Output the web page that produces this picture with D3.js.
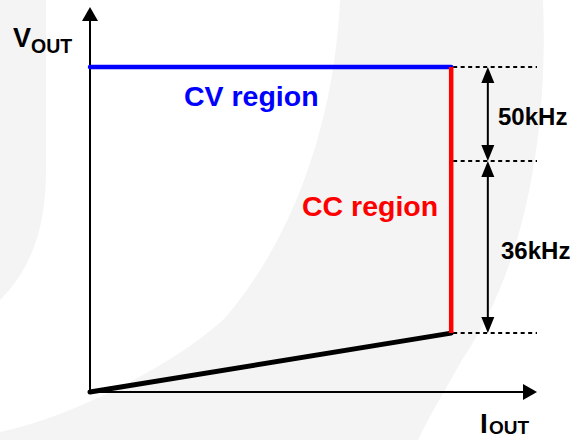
<!DOCTYPE html>
<html><head><meta charset="utf-8">
<script src="https://cdn.jsdelivr.net/npm/d3@7"></script>
<style>
html,body{margin:0;padding:0;background:#fff;}
svg{display:block;font-family:"Liberation Sans",Arial,sans-serif;font-weight:bold;}
</style>
</head><body>
<svg id="c" width="579" height="440"></svg>
<script>
// ---- data (arbitrary units, 0..100 on both axes) ----
const currentDomain = [0, 100];
const voltageDomain = [0, 100];
const iCC = 80.8;          // current limit
const vCV = 84.4;          // regulated voltage
const vMid = 60;           // frequency change level
const vLow = 15.3;         // voltage at CC end
const cvLine = [{i: 0, v: vCV}, {i: iCC, v: vCV}];
const ccLine = [{i: iCC, v: vCV}, {i: iCC, v: vLow}];
const loadLine = [{i: 0, v: 0}, {i: iCC, v: vLow}];
const freqLevels = [vCV, vMid, vLow];
const freqLabels = ["50kHz", "36kHz"];
const regionLabels = ["CV region", "CC region"];
const dimCurrent = 89;     // where the dimension arrows sit

const svg = d3.select("#c");
const x = d3.scaleLinear().domain(currentDomain).range([90, 537]);
const y = d3.scaleLinear().domain(voltageDomain).range([392, 7]);

// faint watermark background
svg.append("path").attr("fill", "#f4f4f4")
  .attr("d", "M340,0 L543,0 C548,120 530,260 462,360 C445,390 430,415 418,440 L0,440 L0,432 C80,415 180,360 225,318 C300,230 335,110 340,0 Z");
svg.append("path").attr("fill", "#f4f4f4")
  .attr("d", "M0,0 L46,0 L46,170 C46,230 30,270 0,300 Z");

const line = d3.line().x(d => x(d.i)).y(d => y(d.v));

// axes (domain paths only) via d3 axes
const xAxis = d3.axisBottom(x).tickValues([]).tickSizeOuter(0);
const yAxis = d3.axisLeft(y).tickValues([]).tickSizeOuter(0);
const gx = svg.append("g").attr("transform", `translate(0,${y(0)})`).call(xAxis);
const gy = svg.append("g").attr("transform", `translate(${x(0)},0)`).call(yAxis);
gx.select(".domain").attr("stroke", "#000").attr("stroke-width", 2)
  .attr("d", `M${x(0)},0H${x(100) - 12}`);
gy.select(".domain").attr("stroke", "#000").attr("stroke-width", 2)
  .attr("d", `M0,${y(0)}V${y(100) + 12}`);

// axis arrowheads
const ax = x(100), ay = y(0);
svg.append("path").attr("fill", "#000")
  .attr("d", `M${ax},${ay} L${ax - 14},${ay - 8} L${ax - 14},${ay + 8} Z`);
const bx = x(0), by = y(100);
svg.append("path").attr("fill", "#000")
  .attr("d", `M${bx},${by} L${bx - 8},${by + 14} L${bx + 8},${by + 14} Z`);

// dashed reference lines
svg.selectAll("line.dash").data(freqLevels).join("line")
  .attr("class", "dash")
  .attr("x1", x(iCC) + 2).attr("x2", x(100))
  .attr("y1", d => y(d)).attr("y2", d => y(d))
  .attr("stroke", "#000").attr("stroke-width", 2)
  .attr("stroke-dasharray", "4,3.5");

// curves
svg.append("path").datum(loadLine).attr("d", line)
  .attr("fill", "none").attr("stroke", "#000").attr("stroke-width", 5).attr("stroke-linecap", "round");
svg.append("path").datum(cvLine).attr("d", line)
  .attr("fill", "none").attr("stroke", "#0000ff").attr("stroke-width", 4.5).attr("stroke-linecap", "round");
svg.append("path").datum(ccLine).attr("d", line)
  .attr("fill", "none").attr("stroke", "#ff0000").attr("stroke-width", 4.5);

// dimension double arrows
const segs = [[freqLevels[0], freqLevels[1]], [freqLevels[1], freqLevels[2]]];
const dx = x(dimCurrent);
segs.forEach(([a, b]) => {
  const y1 = y(a), y2 = y(b);
  svg.append("line").attr("x1", dx).attr("x2", dx).attr("y1", y1 + 10).attr("y2", y2 - 10)
    .attr("stroke", "#000").attr("stroke-width", 2);
  svg.append("path").attr("fill", "#000")
    .attr("d", `M${dx},${y1} L${dx - 6.5},${y1 + 16} L${dx + 6.5},${y1 + 16} Z`);
  svg.append("path").attr("fill", "#000")
    .attr("d", `M${dx},${y2} L${dx - 6.5},${y2 - 16} L${dx + 6.5},${y2 - 16} Z`);
});

// frequency labels
svg.append("text").attr("x", 498).attr("y", 125).attr("font-size", 24).attr("fill", "#000").text(freqLabels[0]);
svg.append("text").attr("x", 501).attr("y", 259).attr("font-size", 24).attr("fill", "#000").text(freqLabels[1]);

// region labels
svg.append("text").attr("x", 184).attr("y", 106).attr("font-size", 28.5).attr("fill", "#0000ff").text(regionLabels[0]);
svg.append("text").attr("x", 302).attr("y", 216).attr("font-size", 28.5).attr("fill", "#ff0000").text(regionLabels[1]);

// axis titles
const vt = svg.append("text").attr("fill", "#000");
vt.append("tspan").attr("x", 13).attr("y", 47).attr("font-size", 27).text("V");
vt.append("tspan").attr("x", 31).attr("y", 53).attr("font-size", 19.5).text("OUT");
const it = svg.append("text").attr("fill", "#000");
it.append("tspan").attr("x", 480).attr("y", 433).attr("font-size", 28).text("I");
it.append("tspan").attr("x", 489).attr("y", 434).attr("font-size", 19).text("OUT");
</script>
</body></html>
